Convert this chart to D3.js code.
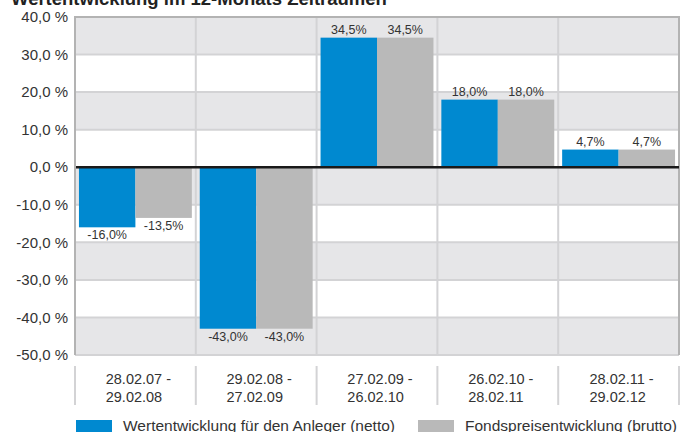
<!DOCTYPE html>
<html>
<head>
<meta charset="utf-8">
<script src="https://cdn.jsdelivr.net/npm/d3@7"></script>
<style>
  body { margin: 0; background: #fff; }
  svg { display: block; font-family: "Liberation Sans", Arial, sans-serif; }
</style>
</head>
<body>
<svg id="chart"></svg>
<script>
const categories = [
  ['28.02.07 -', '29.02.08'],
  ['29.02.08 -', '27.02.09'],
  ['27.02.09 -', '26.02.10'],
  ['26.02.10 -', '28.02.11'],
  ['28.02.11 -', '29.02.12']
];
const netto = [-16.0, -43.0, 34.5, 18.0, 4.7];
const brutto = [-13.5, -43.0, 34.5, 18.0, 4.7];
const seriesNames = ['Wertentwicklung für den Anleger (netto)', 'Fondspreisentwicklung (brutto)'];
const yTicks = [40, 30, 20, 10, 0, -10, -20, -30, -40, -50];
const title = 'Wertentwicklung im 12-Monats Zeitraumen';

const width = 680, height = 432;
const margin = { top: 17, right: 1, bottom: 77, left: 75 };
const colors = ['#0089d0', '#b9b9b9'];
const fmt = v => v.toFixed(1).replace('.', ',');

const svg = d3.select('#chart').attr('width', width).attr('height', height);

const x = d3.scaleBand()
  .domain(d3.range(categories.length))
  .range([margin.left, width - margin.right])
  .paddingInner(0);

const x1 = d3.scaleBand()
  .domain([0, 1])
  .range([0, x.bandwidth()])
  .paddingOuter(0.07)
  .paddingInner(0);

const y = d3.scaleLinear()
  .domain([-50, 40])
  .range([height - margin.bottom, margin.top]);

// title (cut at top)
svg.append('text')
  .attr('x', 11).attr('y', 4.5)
  .attr('font-size', 18.5).attr('font-weight', 'bold').attr('fill', '#222')
  .text(title);

// alternating bands
const bands = d3.range(-50, 40, 10);
svg.append('g').selectAll('rect')
  .data(bands)
  .enter().append('rect')
  .attr('x', margin.left)
  .attr('y', d => y(d + 10))
  .attr('width', width - margin.right - margin.left)
  .attr('height', d => y(d) - y(d + 10))
  .attr('fill', d => (((d + 50) / 10) % 2 === 0) ? '#e6e6e8' : '#ffffff');

// grid
const grid = svg.append('g').attr('stroke', '#d3d3d5').attr('stroke-width', 2);
grid.selectAll('.h').data(yTicks).enter().append('line')
  .attr('x1', margin.left).attr('x2', width - margin.right)
  .attr('y1', d => y(d)).attr('y2', d => y(d));
grid.selectAll('.v').data(d3.range(1, categories.length)).enter().append('line')
  .attr('x1', d => x(d)).attr('x2', d => x(d))
  .attr('y1', margin.top).attr('y2', height - margin.bottom);

// frame
svg.append('path')
  .attr('d', `M${margin.left},${height - margin.bottom}V${margin.top}H${width - margin.right}V${height - margin.bottom}`)
  .attr('fill', 'none').attr('stroke', '#b3b3b3').attr('stroke-width', 2);

// bars
const series = [netto, brutto];
series.forEach((vals, si) => {
  const g = svg.append('g');
  g.selectAll('rect').data(vals).enter().append('rect')
    .attr('x', (d, i) => x(i) + x1(si))
    .attr('y', d => y(Math.max(0, d)))
    .attr('width', x1.bandwidth())
    .attr('height', d => Math.abs(y(d) - y(0)))
    .attr('fill', colors[si]);
  g.selectAll('text').data(vals).enter().append('text')
    .attr('x', (d, i) => x(i) + x1(si) + x1.bandwidth() / 2)
    .attr('y', d => d >= 0 ? y(d) - 4 : y(d) + 12)
    .attr('text-anchor', 'middle')
    .attr('font-size', 12.5).attr('fill', '#333')
    .text(d => fmt(d) + '%');
});

// zero line
svg.append('line')
  .attr('x1', margin.left + 1).attr('x2', width - margin.right)
  .attr('y1', y(0)).attr('y2', y(0))
  .attr('stroke', '#1a1a1a').attr('stroke-width', 2.5);

// y axis labels
svg.append('g').selectAll('text').data(yTicks).enter().append('text')
  .attr('x', 68).attr('y', d => y(d))
  .attr('dy', '0.35em')
  .attr('text-anchor', 'end')
  .attr('font-size', 15).attr('fill', '#333')
  .text(d => fmt(d) + ' %');

// category axis
const cat = svg.append('g');
cat.selectAll('line').data(d3.range(categories.length + 1)).enter().append('line')
  .attr('x1', d => d < categories.length ? x(d) : width - margin.right)
  .attr('x2', d => d < categories.length ? x(d) : width - margin.right)
  .attr('y1', 366).attr('y2', 405)
  .attr('stroke', '#d3d3d5').attr('stroke-width', 2);

categories.forEach((lines, i) => {
  const t = cat.append('text')
    .attr('font-size', 14.5).attr('fill', '#333');
  lines.forEach((l, k) => {
    t.append('tspan').attr('y', 384 + k * 18).text(l);
  });
  const w = d3.max(t.selectAll('tspan').nodes(), n => n.getComputedTextLength());
  t.selectAll('tspan').attr('x', x(i) + x.bandwidth() / 2 - w / 2 + 3);
});

// legend
const legX = [76, 418];
seriesNames.forEach((name, i) => {
  svg.append('rect')
    .attr('x', legX[i]).attr('y', 420)
    .attr('width', 36).attr('height', 12)
    .attr('fill', colors[i]);
  svg.append('text')
    .attr('x', legX[i] + 47).attr('y', 431)
    .attr('font-size', 15.5).attr('fill', '#333')
    .text(name);
});
</script>
</body>
</html>
